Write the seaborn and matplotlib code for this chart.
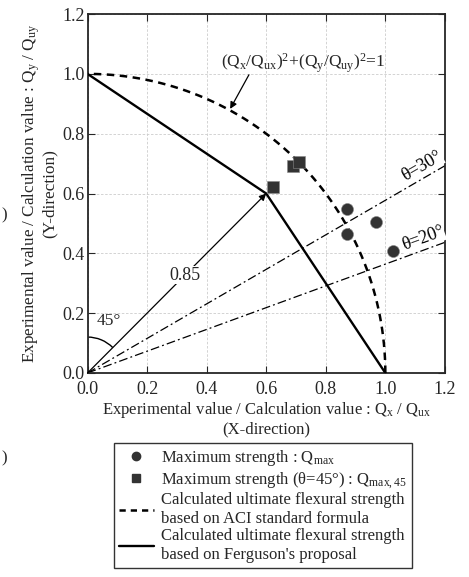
import numpy as np
import pandas as pd
import matplotlib
matplotlib.use("Agg")
import matplotlib.pyplot as plt
from matplotlib.patches import Arc
from matplotlib.lines import Line2D
import seaborn as sns

# measured points
qmax_x = [0.870, 0.872, 0.968, 1.027]
qmax_y = [0.547, 0.463, 0.504, 0.407]
q45_x = [0.622, 0.691, 0.710]
q45_y = [0.621, 0.691, 0.704]

# Ferguson's proposal (polyline)
ferg_x = [0.0, 0.6, 1.0]
ferg_y = [1.0, 0.6, 0.0]

# loading-angle reference lines
theta_deg = [30, 20]
theta_label_pos = [(1.123, 0.692), (1.127, 0.449)]

ticks = [0.0, 0.2, 0.4, 0.6, 0.8, 1.0, 1.2]
tick_labels = ["0.0", "0.2", "0.4", "0.6", "0.8", "1.0", "1.2"]

sns.set_style("ticks")
plt.rcParams["font.family"] = ["Liberation Serif", "DejaVu Serif"]
plt.rcParams["mathtext.fontset"] = "custom"
plt.rcParams["mathtext.rm"] = "Liberation Serif"
plt.rcParams["mathtext.it"] = "Liberation Serif:italic"
plt.rcParams["mathtext.bf"] = "Liberation Serif:bold"

fig = plt.figure(figsize=(4.69, 5.77), dpi=100)
ax = fig.add_axes([0.1866, 0.3536, 0.762, 0.622])

dark = "#333333"

# ACI ellipse (unit quarter circle)
t = np.linspace(0, np.pi / 2, 200)
aci = pd.DataFrame({"x": np.cos(t), "y": np.sin(t)})
ax.plot(aci["x"], aci["y"], color="black", lw=1.8, ls=(0, (3, 2.2)), zorder=3)

ferg = pd.DataFrame({"x": ferg_x, "y": ferg_y})
sns.lineplot(data=ferg, x="x", y="y", sort=False, estimator=None,
             color="black", lw=1.7, ax=ax, zorder=3)

for th in theta_deg:
    ax.axline((0, 0), slope=np.tan(np.radians(th)), color="black",
              lw=0.9, ls=(0, (7, 2.5, 1.5, 2.5)), zorder=2)
for th, (tx, ty) in zip(theta_deg, theta_label_pos):
    ax.text(tx, ty, f"θ={th}°", rotation=th, ha="center", va="center",
            fontsize=13, color="black", zorder=4,
            bbox=dict(facecolor="white", edgecolor="none", pad=0.2))

pts = pd.DataFrame({"x": qmax_x, "y": qmax_y})
sns.scatterplot(data=pts, x="x", y="y", marker="o", s=75, color=dark,
                edgecolor="#888888", linewidth=0.4, ax=ax, zorder=5)
sq = pd.DataFrame({"x": q45_x, "y": q45_y})
sns.scatterplot(data=sq, x="x", y="y", marker="s", s=75, color=dark,
                edgecolor="#888888", linewidth=0.4, ax=ax, zorder=5)

# 0.85 vector at 45 deg
ax.annotate("", xy=(0.6, 0.6), xytext=(0.0, 0.0),
            arrowprops=dict(arrowstyle="-|>", color="black", lw=0.9,
                            mutation_scale=10, shrinkA=0, shrinkB=0), zorder=4)
ax.text(0.327, 0.327, "0.85", fontsize=13, ha="center", va="center",
        bbox=dict(facecolor="white", edgecolor="none", pad=0.5), zorder=5)
ax.add_patch(Arc((0, 0), 0.24, 0.24, theta1=45, theta2=90, color="black", lw=1.0))
ax.text(0.03, 0.175, "45°", fontsize=12.5, ha="left", va="center")

# formula label
ax.text(0.725, 1.035,
        r"(Q$_\mathrm{x}$/Q$_\mathrm{ux}$)$^2$+(Q$_\mathrm{y}$/Q$_\mathrm{uy}$)$^2$=1",
        ha="center", va="center", fontsize=12.5)
ax.annotate("", xy=(0.479, 0.883), xytext=(0.542, 0.997),
            arrowprops=dict(arrowstyle="-|>", color="black", lw=0.9,
                            mutation_scale=10, shrinkA=0, shrinkB=0))

ax.set_xlim(0, 1.2)
ax.set_ylim(0, 1.2)
ax.set_xticks(ticks)
ax.set_xticklabels(tick_labels)
ax.set_yticks(ticks)
ax.set_yticklabels(tick_labels)
ax.tick_params(direction="in", length=5, width=0.8, labelsize=13,
               top=True, right=True, pad=2)
ax.tick_params(axis="x", pad=5.5)
ax.grid(True, ls=(0, (3, 2)), color="#cccccc", lw=0.6)
for s in ax.spines.values():
    s.set_linewidth(1.3)
ax.set_xlabel("Experimental value / Calculation value : Q$_\\mathrm{x}$ / Q$_\\mathrm{ux}$\n(X-direction)",
              fontsize=12, linespacing=1.1, labelpad=2)
ax.set_ylabel("Experimental value / Calculation value : Q$_\\mathrm{y}$ / Q$_\\mathrm{uy}$\n(Y-direction)",
              fontsize=12.3, linespacing=1.0, labelpad=3)

handles = [
    Line2D([], [], ls="none", marker="o", ms=6, color=dark),
    Line2D([], [], ls="none", marker="s", ms=6, color=dark),
    Line2D([], [], color="black", lw=1.8, ls=(0, (2.5, 2.0))),
    Line2D([], [], color="black", lw=1.7),
]
labels = [
    "Maximum strength : Q$_\\mathrm{max}$",
    "Maximum strength (θ=45°) : Q$_\\mathrm{max,45}$",
    "Calculated ultimate flexural strength\nbased on ACI standard formula",
    "Calculated ultimate flexural strength\nbased on Ferguson's proposal",
]
leg = fig.legend(handles, labels, loc="upper left", bbox_to_anchor=(0.243, 0.232),
                 fontsize=12, frameon=True, fancybox=False, edgecolor="black",
                 handlelength=2.1, handletextpad=0.45, labelspacing=0.1,
                 borderpad=0.3, borderaxespad=0)
leg.get_frame().set_linewidth(1.0)

fig.text(0.003, 1 - 215 / 577, ")", fontsize=12, va="center")
fig.text(0.003, 1 - 458 / 577, ")", fontsize=12, va="center")

fig.savefig("out.png", dpi=100)
